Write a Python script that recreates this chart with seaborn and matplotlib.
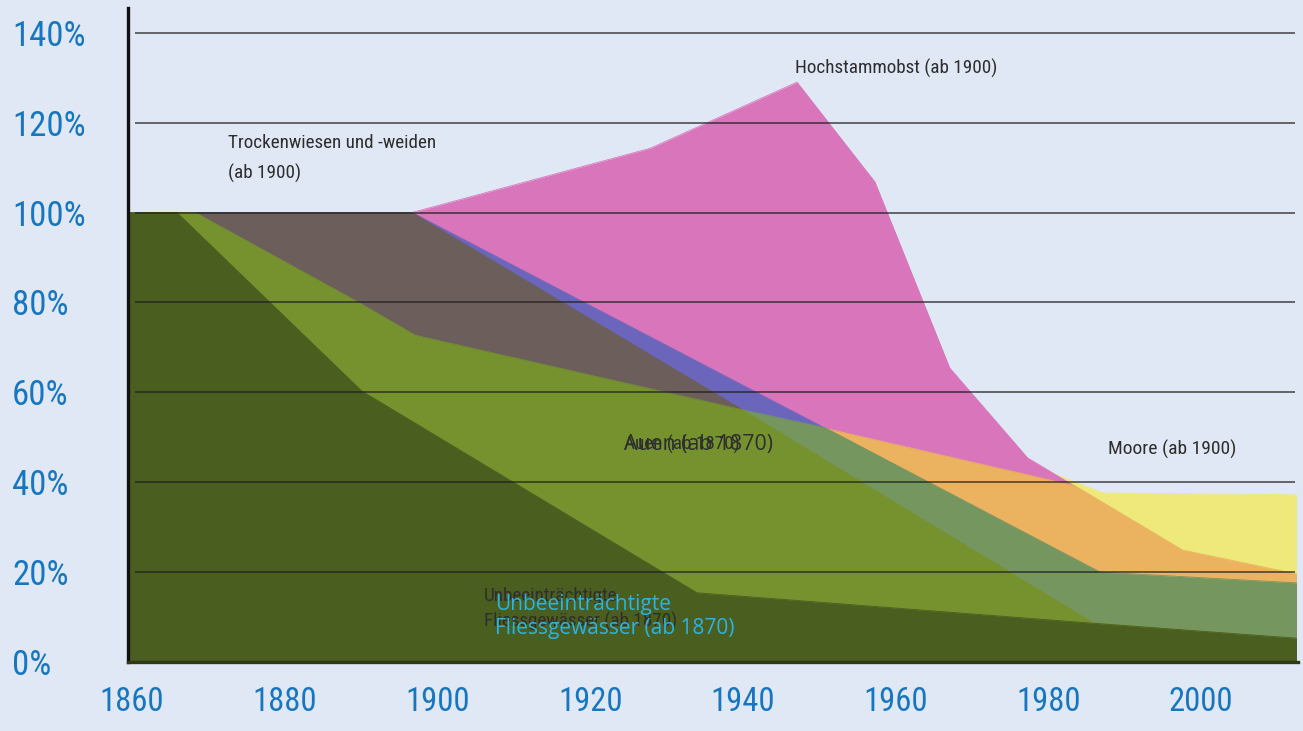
import matplotlib
matplotlib.use("Agg")
import matplotlib.pyplot as plt
import matplotlib.transforms as mtransforms
import seaborn as sns

# values in % of the start level
dg_years = [1860, 1866.4, 1890.6, 1934.5, 1987.3, 2013]
dg_vals = [100, 100, 60.3, 15.4, 8.5, 5.3]

olive_years = [1860, 1868.8, 1890.0, 1897.6, 1940.5, 1986.4, 2013]
olive_vals = [100, 100, 80.2, 72.7, 56.1, 8.7, 5.0]

brown_years = [1860, 1897.2, 1940.1, 1960, 1987, 2013]
brown_vals = [100, 100, 56.5, 20, 3, 2]

gg_years = [1870, 1897.6, 1940.5, 1951.3, 1987.3, 2013]
gg_vals = [100, 72.7, 56.1, 52.1, 20.0, 17.6]

blue_years = [1860, 1897.2, 1951.3, 1987.3, 2013]
blue_vals = [100, 100, 52.0, 19.5, 17.0]

orange_years = [1870, 1900, 1951.3, 1984.0, 1998.1, 2013]
orange_vals = [100, 80, 52.0, 39.2, 24.9, 19.6]

pink_years = [1897.2, 1928.4, 1947.6, 1957.8, 1967.6, 1977.8, 1983.7, 1987, 1998, 2013]
pink_vals = [100, 114.3, 129.0, 106.8, 65.4, 45.4, 39.4, 35, 24, 19.3]

yellow_years = [1900, 1960, 1978, 1987.7, 2013]
yellow_vals = [100, 62, 44, 37.6, 37.2]

x_ticks = [1860, 1880, 1900, 1920, 1940, 1960, 1980, 2000]
y_ticks = [0, 20, 40, 60, 80, 100, 120, 140]

bg = "#e1e8f5"
sns.set_style("white", {"axes.facecolor": bg, "figure.facecolor": bg})
narrow = ["Roboto Condensed", "Liberation Sans Narrow", "DejaVu Sans"]
wide = ["Open Sans", "DejaVu Sans"]
plt.rcParams["font.family"] = narrow

fig = plt.figure(figsize=(13.03, 7.31), dpi=100)
ax = fig.add_axes([128 / 1303, 69 / 731, 1170 / 1303, 654 / 731])

# back to front
layers = [
    (yellow_years, yellow_vals, "#eee97a"),
    (pink_years, pink_vals, "#d975bb"),
    (orange_years, orange_vals, "#ebb25f"),
    (blue_years, blue_vals, "#6b66bb"),
    (gg_years, gg_vals, "#76965f"),
    (brown_years, brown_vals, "#6b5e5b"),
    (olive_years, olive_vals, "#76922e"),
    (dg_years, dg_vals, "#4a5e20"),
]
for i, (yrs, vals, col) in enumerate(layers):
    ax.fill_between(yrs, 0, vals, color=col, lw=0, zorder=2 + i)
    sns.lineplot(x=yrs, y=vals, color=col, lw=0.6, ax=ax, zorder=2 + i)

ax.set_xlim(1860, 2013.2)
ax.set_ylim(0, 145.5)

# gridlines over the areas
ax.hlines(y_ticks[1:], 1860.9, 2012.8, colors="#1e1e1e", lw=1.3, alpha=0.7, zorder=20)

ax.set_xticks(x_ticks)
ax.set_xticklabels([str(y) for y in x_ticks])
ax.set_yticks(y_ticks)
ax.set_yticklabels([f"{v}%" for v in y_ticks])
ax.tick_params(axis="x", length=0, pad=17, labelsize=23.5, labelcolor="#1776c0")
ax.tick_params(axis="y", length=0, pad=83.5, labelsize=25, labelcolor="#1776c0")
for lbl in ax.get_yticklabels():
    lbl.set_horizontalalignment("left")
shift = mtransforms.ScaledTranslation(4 / 100, 0, fig.dpi_scale_trans)
for lbl in ax.get_xticklabels():
    lbl.set_transform(lbl.get_transform() + shift)
ax.set_xlabel("")
ax.set_ylabel("")

for s in ["top", "right"]:
    ax.spines[s].set_visible(False)
ax.spines["left"].set_color("#111111")
ax.spines["left"].set_linewidth(2.4)
ax.spines["bottom"].set_color("#2f3a14")
ax.spines["bottom"].set_linewidth(2.4)
ax.spines["left"].set_zorder(25)
ax.spines["bottom"].set_zorder(25)

txt = "#2e2e2e"
ax.text(1947.3, 132.1, "Hochstammobst (ab 1900)", fontsize=13.8, color=txt, va="center", zorder=30)
ax.text(1873.1, 112.0, "Trockenwiesen und -weiden\n(ab 1900)", fontsize=13.8, color=txt,
        va="center", linespacing=1.75, zorder=30)
ax.text(1988.3, 47.2, "Moore (ab 1900)", fontsize=14, color=txt, va="center", zorder=30)
ax.text(1924.9, 48.3, "Auen (ab 1870)", fontsize=13.8, color=txt, va="center", zorder=30)
ax.text(1924.9, 48.3, "Auen (ab 1870)", fontsize=15.3, color=txt, va="center",
        family=wide, zorder=30)
ax.text(1906.6, 11.8, "Unbeeinträchtigte\nFliessgewässer (ab 1870)", fontsize=13.8, color=txt,
        va="center", linespacing=1.45, zorder=30)
ax.text(1908.1, 10.2, "Unbeeinträchtigte\nFliessgewässer (ab 1870)", fontsize=15, color="#2ab4e4",
        va="center", linespacing=1.2, family=wide, zorder=31)

fig.savefig("out.png", dpi=100, facecolor=bg)
